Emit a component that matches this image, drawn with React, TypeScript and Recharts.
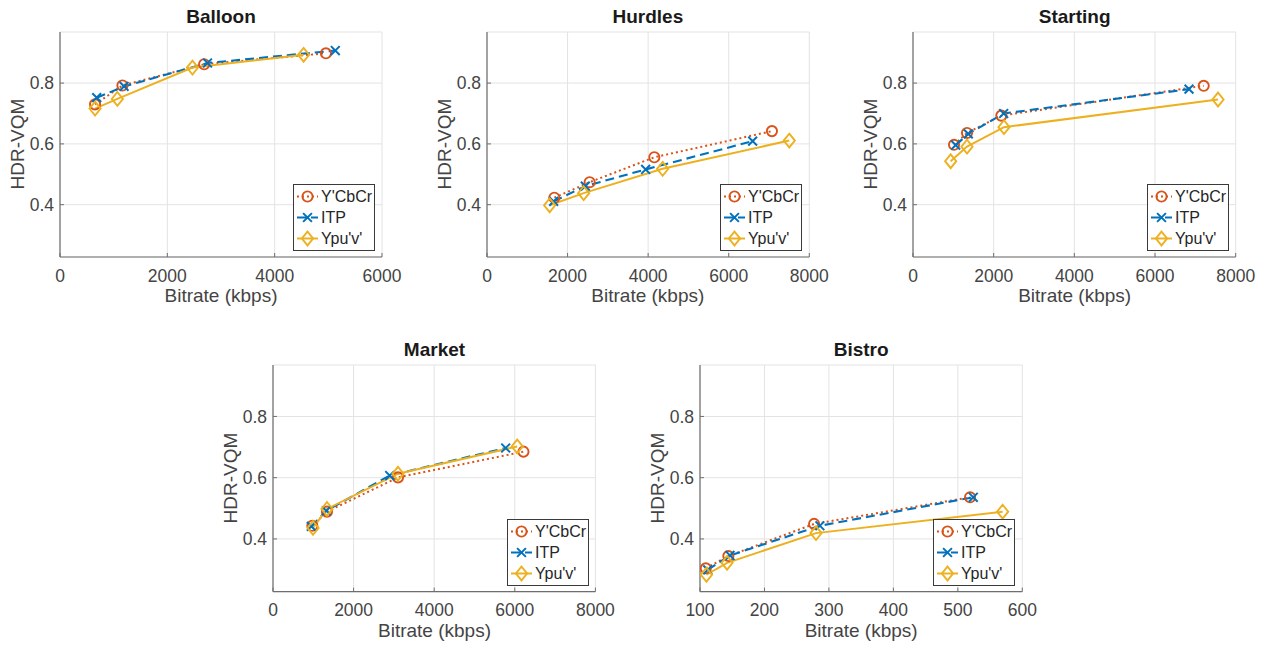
import React from 'react';
import { LineChart, Line, XAxis, YAxis, CartesianGrid, Legend } from 'recharts';

// ---------- data ----------
const seriesNames = ["Y'CbCr", 'ITP', "Ypu'v'"];

const balloonYcbcrRate = [653, 1163, 2686, 4955];
const balloonYcbcrVqm = [0.73, 0.792, 0.862, 0.898];
const balloonItpRate = [684, 1194, 2748, 5130];
const balloonItpVqm = [0.752, 0.789, 0.866, 0.907];
const balloonYpuvRate = [653, 1069, 2468, 4539];
const balloonYpuvVqm = [0.716, 0.748, 0.851, 0.893];

const hurdlesYcbcrRate = [1671, 2548, 4153, 7073];
const hurdlesYcbcrVqm = [0.423, 0.474, 0.556, 0.642];
const hurdlesItpRate = [1654, 2440, 3938, 6594];
const hurdlesItpVqm = [0.411, 0.461, 0.516, 0.609];
const hurdlesYpuvRate = [1555, 2399, 4360, 7503];
const hurdlesYpuvVqm = [0.398, 0.438, 0.518, 0.611];

const startingYcbcrRate = [1017, 1339, 2190, 7207];
const startingYcbcrVqm = [0.597, 0.636, 0.693, 0.791];
const startingItpRate = [1058, 1372, 2248, 6843];
const startingItpVqm = [0.596, 0.633, 0.7, 0.78];
const startingYpuvRate = [934, 1339, 2256, 7562];
const startingYpuvVqm = [0.543, 0.591, 0.655, 0.746];

const marketYcbcrRate = [976, 1340, 3102, 6215];
const marketYcbcrVqm = [0.443, 0.489, 0.601, 0.685];
const marketItpRate = [951, 1324, 2896, 5774];
const marketItpVqm = [0.441, 0.492, 0.607, 0.697];
const marketYpuvRate = [993, 1340, 3102, 6060];
const marketYpuvVqm = [0.436, 0.498, 0.613, 0.702];

const bistroYcbcrRate = [109, 144, 277, 519];
const bistroYcbcrVqm = [0.304, 0.344, 0.449, 0.536];
const bistroItpRate = [112, 146.5, 286, 524];
const bistroItpVqm = [0.299, 0.346, 0.443, 0.536];
const bistroYpuvRate = [110, 142, 280, 569.5];
const bistroYpuvVqm = [0.283, 0.322, 0.419, 0.489];

const kbpsTicks8000 = [0, 2000, 4000, 6000, 8000];
const kbpsTicks6000 = [0, 2000, 4000, 6000];
const bistroTicks = [100, 200, 300, 400, 500, 600];
const vqmTicks = [0.4, 0.6, 0.8];
const vqmDomain = [0.228, 0.968];

// ---------- styles ----------
const FONT = '"Liberation Sans", Arial, Helvetica, sans-serif';
const C_RED = '#D95319';
const C_BLUE = '#0072BD';
const C_YEL = '#EDB120';
const AXIS = '#6e6e6e';
const TICK_TXT = '#444444';

type Pt = { x: number; y: number };
const zip = (xs: number[], ys: number[]): Pt[] => xs.map((x, i) => ({ x, y: ys[i] }));

const styles: Record<string, any> = {
  "Y'CbCr": { color: C_RED, dash: '2 3', width: 2, marker: 'circle' },
  ITP: { color: C_BLUE, dash: '9 5', width: 2.1, marker: 'x' },
  "Ypu'v'": { color: C_YEL, dash: undefined, width: 2, marker: 'diamond' },
};

function Marker({ kind, cx, cy, color }: { kind: string; cx: number; cy: number; color: string }) {
  if (kind === 'circle') {
    return <circle cx={cx} cy={cy} r={5.1} fill="none" stroke={color} strokeWidth={1.9} />;
  }
  if (kind === 'x') {
    const s = 4.4;
    return (
      <path
        d={`M${cx - s},${cy - s}L${cx + s},${cy + s}M${cx - s},${cy + s}L${cx + s},${cy - s}`}
        stroke={color}
        strokeWidth={2}
        fill="none"
      />
    );
  }
  const w = 5.6;
  const h = 6.9;
  return (
    <path
      d={`M${cx},${cy - h}L${cx + w},${cy}L${cx},${cy + h}L${cx - w},${cy}Z`}
      stroke={color}
      strokeWidth={1.9}
      fill="none"
    />
  );
}

// ---------- layout ----------
const ML = 60;
const MT = 10;
const MR = 30;
const MB = 42;
const TICK_LEN = 4;
const X_MARGIN = 12;
const Y_MARGIN = 6;

type PanelCfg = {
  title: string;
  xDomain: number[];
  xTicks: number[];
  series: { name: string; data: Pt[] }[];
  px: number;
  py: number;
  pw: number;
  ph: number;
};

const panels: PanelCfg[] = [
  {
    title: 'Balloon',
    xDomain: [0, 6000],
    xTicks: kbpsTicks6000,
    series: [
      { name: seriesNames[0], data: zip(balloonYcbcrRate, balloonYcbcrVqm) },
      { name: seriesNames[1], data: zip(balloonItpRate, balloonItpVqm) },
      { name: seriesNames[2], data: zip(balloonYpuvRate, balloonYpuvVqm) },
    ],
    px: 60, py: 31.7, pw: 322, ph: 225,
  },
  {
    title: 'Hurdles',
    xDomain: [0, 8000],
    xTicks: kbpsTicks8000,
    series: [
      { name: seriesNames[0], data: zip(hurdlesYcbcrRate, hurdlesYcbcrVqm) },
      { name: seriesNames[1], data: zip(hurdlesItpRate, hurdlesItpVqm) },
      { name: seriesNames[2], data: zip(hurdlesYpuvRate, hurdlesYpuvVqm) },
    ],
    px: 486.7, py: 31.7, pw: 322.3, ph: 225,
  },
  {
    title: 'Starting',
    xDomain: [0, 8000],
    xTicks: kbpsTicks8000,
    series: [
      { name: seriesNames[0], data: zip(startingYcbcrRate, startingYcbcrVqm) },
      { name: seriesNames[1], data: zip(startingItpRate, startingItpVqm) },
      { name: seriesNames[2], data: zip(startingYpuvRate, startingYpuvVqm) },
    ],
    px: 913.3, py: 31.7, pw: 322.7, ph: 225,
  },
  {
    title: 'Market',
    xDomain: [0, 8000],
    xTicks: kbpsTicks8000,
    series: [
      { name: seriesNames[0], data: zip(marketYcbcrRate, marketYcbcrVqm) },
      { name: seriesNames[1], data: zip(marketItpRate, marketItpVqm) },
      { name: seriesNames[2], data: zip(marketYpuvRate, marketYpuvVqm) },
    ],
    px: 273.3, py: 365, pw: 322.4, ph: 226.6,
  },
  {
    title: 'Bistro',
    xDomain: [100, 600],
    xTicks: bistroTicks,
    series: [
      { name: seriesNames[0], data: zip(bistroYcbcrRate, bistroYcbcrVqm) },
      { name: seriesNames[1], data: zip(bistroItpRate, bistroItpVqm) },
      { name: seriesNames[2], data: zip(bistroYpuvRate, bistroYpuvVqm) },
    ],
    px: 700, py: 365, pw: 322.3, ph: 226.6,
  },
];

// ---------- ticks ----------
const bottomTick = (p: any) => (
  <g>
    <line x1={p.x} y1={p.y - X_MARGIN} x2={p.x} y2={p.y - X_MARGIN - TICK_LEN} stroke={AXIS} strokeWidth={1} />
    <text x={p.x} y={p.y} dy="0.72em" textAnchor="middle" fill={TICK_TXT} fontSize={17.5} fontFamily={FONT}>
      {String(p.payload.value)}
    </text>
  </g>
);
const leftTick = (p: any) => (
  <g>
    <line x1={p.x + Y_MARGIN} y1={p.y} x2={p.x + Y_MARGIN + TICK_LEN} y2={p.y} stroke={AXIS} strokeWidth={1} />
    <text x={p.x} y={p.y} dy="0.36em" textAnchor="end" fill={TICK_TXT} fontSize={17.5} fontFamily={FONT}>
      {Number(p.payload.value).toFixed(1)}
    </text>
  </g>
);
const topTick = (p: any) => (
  <line x1={p.x} y1={p.y} x2={p.x} y2={p.y + TICK_LEN} stroke={AXIS} strokeWidth={1} />
);
const rightTick = (p: any) => (
  <line x1={p.x} y1={p.y} x2={p.x - TICK_LEN} y2={p.y} stroke={AXIS} strokeWidth={1} />
);

// ---------- legend ----------
const LEG_W = 82;
const LEG_H = 67;
const rowY = [12.5, 33.5, 54.5];

function LegendBox() {
  return (
    <div
      style={{
        width: LEG_W,
        height: LEG_H,
        boxSizing: 'border-box',
        border: '1px solid #3a3a3a',
        background: '#fff',
      }}
    >
      <svg width={LEG_W - 2} height={LEG_H - 2} style={{ display: 'block' }}>
        {seriesNames.map((n, i) => {
          const st = styles[n];
          const cy = rowY[i] - 1;
          return (
            <g key={n}>
              <line x1={3} x2={24} y1={cy} y2={cy} stroke={st.color} strokeWidth={st.width} strokeDasharray={st.dash} />
              <Marker kind={st.marker} cx={13.5} cy={cy} color={st.color} />
              <text x={27} y={cy} dy="0.36em" fontSize={16} fontFamily={FONT} fill="#262626">
                {n}
              </text>
            </g>
          );
        })}
      </svg>
    </div>
  );
}

function Panel({ cfg }: { cfg: PanelCfg }) {
  const W = cfg.pw + ML + MR;
  const H = cfg.ph + MT + MB;
  return (
    <div style={{ position: 'absolute', left: cfg.px - ML, top: cfg.py - MT, width: W, height: H }}>
      <LineChart width={W} height={H} margin={{ top: MT, right: MR, bottom: 0, left: 0 }}>
        <CartesianGrid stroke="#e3e3e3" strokeWidth={1} />
        <XAxis
          type="number"
          dataKey="x"
          domain={cfg.xDomain}
          ticks={cfg.xTicks}
          interval={0}
          allowDataOverflow
          height={MB}
          axisLine={{ stroke: AXIS, strokeWidth: 1.2 }}
          tickLine={false}
          tickSize={0}
          tickMargin={X_MARGIN}
          tick={bottomTick}
        />
        <XAxis
          xAxisId="top"
          orientation="top"
          type="number"
          dataKey="x"
          domain={cfg.xDomain}
          ticks={cfg.xTicks}
          interval={0}
          allowDataOverflow
          height={0}
          axisLine={{ stroke: AXIS, strokeWidth: 1.2 }}
          tickLine={false}
          tickSize={0}
          tickMargin={0}
          tick={topTick}
        />
        <YAxis
          type="number"
          domain={vqmDomain}
          ticks={vqmTicks}
          interval={0}
          allowDataOverflow
          width={ML}
          axisLine={{ stroke: AXIS, strokeWidth: 1.2 }}
          tickLine={false}
          tickSize={0}
          tickMargin={Y_MARGIN}
          tick={leftTick}
        />
        <YAxis
          yAxisId="right"
          orientation="right"
          type="number"
          domain={vqmDomain}
          ticks={vqmTicks}
          interval={0}
          allowDataOverflow
          width={0}
          axisLine={{ stroke: AXIS, strokeWidth: 1.2 }}
          tickLine={false}
          tickSize={0}
          tickMargin={0}
          tick={rightTick}
        />
        {cfg.series.map((s) => {
          const st = styles[s.name];
          return (
            <Line
              key={s.name}
              data={s.data}
              dataKey="y"
              name={s.name}
              type="linear"
              stroke={st.color}
              strokeWidth={st.width}
              strokeDasharray={st.dash}
              isAnimationActive={false}
              activeDot={false}
              dot={(p: any) => (
                <Marker key={`${s.name}-${p.index}`} kind={st.marker} cx={p.cx} cy={p.cy} color={st.color} />
              )}
            />
          );
        })}
        <Legend
          layout="vertical"
          verticalAlign="middle"
          align="center"
          wrapperStyle={{ right: MR + 7, bottom: MB + 5.5, width: LEG_W, height: LEG_H }}
          content={() => <LegendBox />}
        />
      </LineChart>
      <div
        style={{
          position: 'absolute',
          left: ML,
          width: cfg.pw,
          top: MT - 25,
          height: 20,
          lineHeight: '20px',
          textAlign: 'center',
          fontFamily: FONT,
          fontWeight: 'bold',
          fontSize: 19,
          color: '#1a1a1a',
          whiteSpace: 'nowrap',
        }}
      >
        {cfg.title}
      </div>
      <div
        style={{
          position: 'absolute',
          left: ML,
          width: cfg.pw,
          top: MT + cfg.ph + 29,
          height: 20,
          lineHeight: '20px',
          textAlign: 'center',
          fontFamily: FONT,
          fontSize: 19,
          color: TICK_TXT,
          whiteSpace: 'nowrap',
        }}
      >
        Bitrate (kbps)
      </div>
      <div
        style={{
          position: 'absolute',
          left: ML - 42 - 60,
          top: MT + cfg.ph / 2 - 10,
          width: 120,
          height: 20,
          lineHeight: '20px',
          textAlign: 'center',
          fontFamily: FONT,
          fontSize: 19,
          color: TICK_TXT,
          whiteSpace: 'nowrap',
          transform: 'rotate(-90deg)',
        }}
      >
        HDR-VQM
      </div>
    </div>
  );
}

export default function App() {
  return (
    <div style={{ position: 'absolute', left: 0, top: 0, width: 1268, height: 646, background: '#fff', overflow: 'hidden' }}>
      {panels.map((p) => (
        <Panel key={p.title} cfg={p} />
      ))}
    </div>
  );
}
